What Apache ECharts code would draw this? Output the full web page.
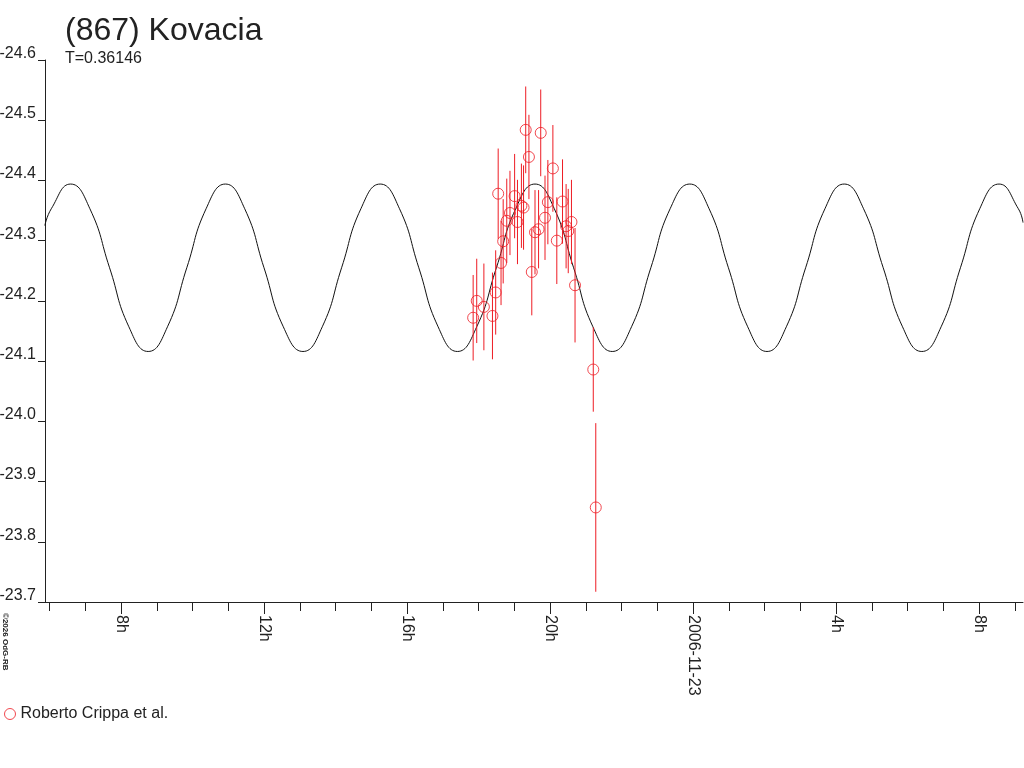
<!DOCTYPE html>
<html>
<head>
<meta charset="utf-8">
<script src="https://cdn.jsdelivr.net/npm/echarts@6/dist/echarts.min.js"></script>
<style>
  html, body { margin: 0; padding: 0; background: #fff; }
  #chart { width: 1024px; height: 768px; }
</style>
</head>
<body>
<div id="chart"></div>
<script>
// hours counted from 2006-11-22 00:00
const curveHours = [5.87, 6.05, 6.59, 7.13, 7.68, 8.22, 8.76, 9.30, 9.84, 10.38,
  10.92, 11.46, 12.00, 12.54, 13.09, 13.63, 14.17, 14.71, 15.25, 15.79,
  16.33, 16.87, 17.41, 17.95, 18.50, 19.04, 19.58, 20.12, 20.66, 21.20,
  21.74, 22.28, 22.82, 23.36, 23.91, 24.45, 24.99, 25.53, 26.07, 26.61,
  27.15, 27.69, 28.23, 28.77, 29.32, 29.86, 30.40, 30.94, 31.48, 32.02,
  32.56, 33.10, 33.23];
const curveMags = [-24.325, -24.353, -24.394, -24.353, -24.255, -24.157, -24.116, -24.157, -24.255, -24.353,
  -24.394, -24.353, -24.255, -24.157, -24.116, -24.157, -24.255, -24.353, -24.394, -24.353,
  -24.255, -24.157, -24.116, -24.157, -24.255, -24.353, -24.394, -24.353, -24.255, -24.157,
  -24.116, -24.157, -24.255, -24.353, -24.394, -24.353, -24.255, -24.157, -24.116, -24.157,
  -24.255, -24.353, -24.394, -24.353, -24.255, -24.157, -24.116, -24.157, -24.255, -24.353,
  -24.394, -24.353, -24.330];

const obsHours = [17.85, 17.95, 18.15, 18.39, 18.48, 18.55, 18.63, 18.69, 18.79, 18.88,
  19.01, 19.09, 19.20, 19.26, 19.32, 19.41, 19.49, 19.58, 19.68, 19.74,
  19.86, 19.94, 20.08, 20.19, 20.35, 20.45, 20.51, 20.60, 20.70, 21.21, 21.28];
const obsMags = [-24.172, -24.200, -24.190, -24.175, -24.214, -24.378, -24.263, -24.299, -24.333, -24.346,
  -24.374, -24.331, -24.358, -24.355, -24.484, -24.439, -24.248, -24.314, -24.319, -24.479,
  -24.338, -24.364, -24.420, -24.300, -24.365, -24.324, -24.316, -24.331, -24.226, -24.086, -23.857];
const obsErrs = [0.071, 0.07, 0.072, 0.072, 0.07, 0.075, 0.07, 0.07, 0.07, 0.07,
  0.07, 0.07, 0.07, 0.07, 0.072, 0.07, 0.072, 0.07, 0.065, 0.072,
  0.07, 0.07, 0.072, 0.072, 0.07, 0.07, 0.07, 0.07, 0.095, 0.07, 0.14];

const hourTicks = [6, 7, 8, 9, 10, 11, 12, 13, 14, 15, 16, 17, 18, 19, 20, 21, 22, 23, 24,
  25, 26, 27, 28, 29, 30, 31, 32, 33];
const labelTicks = [8, 12, 16, 20, 24, 28, 32];
const labelTexts = ['8h', '12h', '16h', '20h', '2006-11-23', '4h', '8h'];

const X_MIN = 5.874, X_MAX = 33.23;
const RED = '#ee1c24';
const INK = '#222';
const FONT = 'Liberation Sans';

const myChart = echarts.init(document.getElementById('chart'), null, { renderer: 'canvas' });

const curveData = curveHours.map((h, i) => [h, curveMags[i]]);
const obsData = obsHours.map((h, i) => [h, obsMags[i]]);
const barData = obsHours.map((h, i) => [h, obsMags[i] - obsErrs[i], obsMags[i] + obsErrs[i]]);

myChart.setOption({
  animation: false,
  backgroundColor: '#fff',
  textStyle: { fontFamily: FONT },
  title: {
    text: '(867) Kovacia',
    subtext: 'T=0.36146',
    left: 60, top: 10,
    itemGap: 4,
    textStyle: { fontFamily: FONT, fontSize: 32, fontWeight: 'normal', color: INK },
    subtextStyle: { fontFamily: FONT, fontSize: 16, color: INK }
  },
  legend: {
    left: 4, top: 706, padding: 0,
    itemWidth: 11, itemHeight: 11, itemGap: 6,
    textStyle: { fontFamily: FONT, fontSize: 16, color: INK },
    data: [{
      name: 'Roberto Crippa et al.',
      icon: 'circle',
      itemStyle: { color: 'rgba(0,0,0,0)', borderColor: RED, borderWidth: 1 }
    }]
  },
  graphic: [{
    type: 'text',
    x: 9, y: 613,
    rotation: -Math.PI / 2,
    style: { text: '©2026 OdG-RB', fontSize: 8, fontWeight: 'bold', fontFamily: FONT, fill: INK,
      textAlign: 'left', textVerticalAlign: 'top' }
  }],
  grid: { left: 45, top: 60, right: 1, bottom: 166, outerBoundsMode: 'none', containLabel: false },
  xAxis: [{
    type: 'value', min: X_MIN, max: X_MAX, position: 'bottom',
    axisLine: { show: true, lineStyle: { color: INK, width: 1 } },
    axisTick: { show: true, length: 9, customValues: hourTicks, lineStyle: { color: INK } },
    axisLabel: { show: false },
    splitLine: { show: false }
  }, {
    type: 'value', min: X_MIN, max: X_MAX, position: 'bottom',
    axisLine: { show: false },
    axisTick: { show: true, length: 12, customValues: labelTicks, lineStyle: { color: INK } },
    axisLabel: {
      show: true, customValues: labelTicks, rotate: -90, margin: 13,
      padding: [0, 0, 14, 0],
      fontFamily: FONT, fontSize: 16, color: INK,
      formatter: v => labelTexts[labelTicks.indexOf(Math.round(v))]
    },
    splitLine: { show: false }
  }],
  yAxis: {
    type: 'value', inverse: true, min: -24.6, max: -23.7, interval: 0.1,
    axisLine: { show: true, lineStyle: { color: INK, width: 1 } },
    axisTick: { show: true, inside: false, length: 7, lineStyle: { color: INK } },
    axisLabel: {
      margin: 9, fontFamily: FONT, fontSize: 16, color: INK,
      verticalAlign: 'bottom', lineHeight: 13,
      formatter: v => v.toFixed(1)
    },
    splitLine: { show: false }
  },
  series: [{
    name: 'fit',
    type: 'line',
    xAxisIndex: 0,
    data: curveData,
    smooth: 0.5,
    showSymbol: false,
    lineStyle: { color: '#111', width: 1 },
    z: 2
  }, {
    name: 'errors',
    type: 'custom',
    xAxisIndex: 0,
    data: barData,
    renderItem: function (params, api) {
      const top = api.coord([api.value(0), api.value(1)]);
      const bot = api.coord([api.value(0), api.value(2)]);
      return {
        type: 'line',
        shape: { x1: top[0], y1: top[1], x2: bot[0], y2: bot[1] },
        style: { stroke: RED, lineWidth: 1 }
      };
    },
    z: 3
  }, {
    name: 'Roberto Crippa et al.',
    type: 'scatter',
    xAxisIndex: 0,
    data: obsData,
    symbol: 'circle',
    symbolSize: 11,
    itemStyle: { color: 'rgba(0,0,0,0)', borderColor: RED, borderWidth: 1 },
    z: 4
  }]
});
</script>
</body>
</html>
